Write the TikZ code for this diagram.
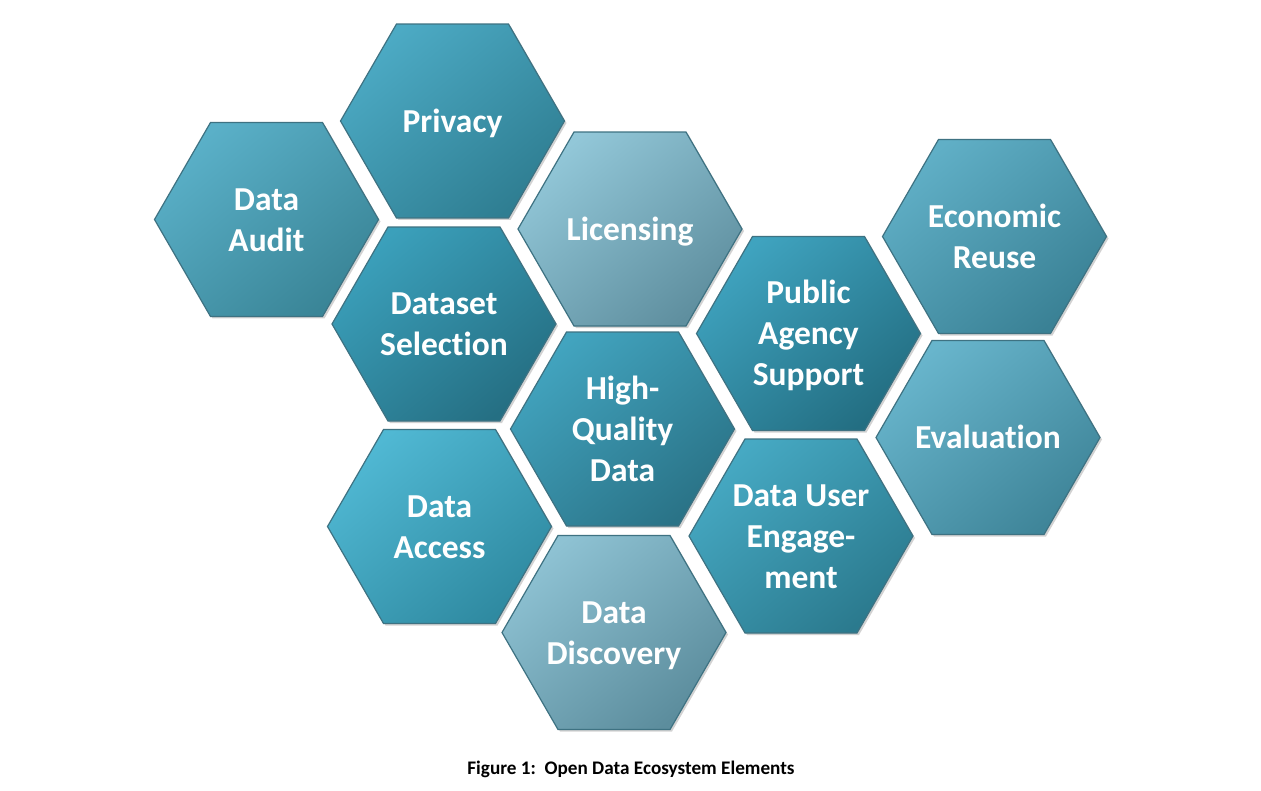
\documentclass[tikz,border=0pt]{standalone}
\usepackage{fontspec}
\setmainfont{Carlito}[Ligatures=CommonOff]
\usetikzlibrary{shapes.geometric,shadows}
\definecolor{edgec}{HTML}{3E7282}
\definecolor{auditA}{HTML}{5AB0C8}\definecolor{auditB}{HTML}{3A8597}
\definecolor{privA}{HTML}{4CAAC4}\definecolor{privB}{HTML}{2F7E92}
\definecolor{licA}{HTML}{92C7D8}\definecolor{licB}{HTML}{5F8F9F}
\definecolor{selA}{HTML}{3BA0BB}\definecolor{selB}{HTML}{256F83}
\definecolor{ecoA}{HTML}{60AFC6}\definecolor{ecoB}{HTML}{3A8195}
\definecolor{agA}{HTML}{3FA3BF}\definecolor{agB}{HTML}{236E82}
\definecolor{hqA}{HTML}{42A4BF}\definecolor{hqB}{HTML}{2A7387}
\definecolor{evA}{HTML}{68B5CC}\definecolor{evB}{HTML}{3F8599}
\definecolor{accA}{HTML}{50B8D3}\definecolor{accB}{HTML}{2F8AA1}
\definecolor{usrA}{HTML}{46A9C3}\definecolor{usrB}{HTML}{2B7A8E}
\definecolor{disA}{HTML}{8EC2D3}\definecolor{disB}{HTML}{5C8D9D}
% one centred line of zero width, with fixed ascent/descent
\newcommand\hl[1]{\makebox[0pt]{\rule[-0.23em]{0pt}{1.13em}#1}}
\tikzset{
  hexa/.style n args={2}{regular polygon, regular polygon sides=6,
    minimum size=224pt, inner sep=0pt, draw=edgec, line width=1.2pt,
    top color=#1, bottom color=#2, shading angle=40,
    text=white, align=center, font=\fontsize{33.5}{41}\selectfont\bfseries,
    drop shadow={opacity=0.35, shadow xshift=2pt, shadow yshift=-2pt}},
  caption/.style={font=\fontsize{19.2}{23}\selectfont\bfseries, text=black}
}
\begin{document}
\begin{tikzpicture}[x=1pt,y=-1pt]
\useasboundingbox[fill=white] (0,0) rectangle (1261,790);
\node[hexa={auditA}{auditB}] (audit) at (266.5,219.5) {\hl{Data}\\\hl{Audit}};
\node[hexa={privA}{privB}] (privacy) at (452.5,121) {\hl{Privacy}};
\node[hexa={licA}{licB}] (licensing) at (630,229) {\hl{Licensing}};
\node[hexa={selA}{selB}] (selection) at (444,324) {\hl{Dataset}\\\hl{Selection}};
\node[hexa={ecoA}{ecoB}] (economic) at (994.5,236.5) {\hl{Economic}\\\hl{Reuse}};
\node[hexa={agA}{agB}] (agency) at (808.5,333.5) {\hl{Public}\\\hl{Agency}\\\hl{Support}};
\node[hexa={hqA}{hqB}] (quality) at (622.5,429) {\hl{High-}\\\hl{Quality}\\\hl{Data}};
\node[hexa={evA}{evB}] (evaluation) at (988,437.5) {\hl{Evaluation}};
\node[hexa={accA}{accB}] (access) at (439.5,526.5) {\hl{Data}\\\hl{Access}};
\node[hexa={usrA}{usrB}] (user) at (801,536) {\hl{Data User}\\\hl{Engage-}\\\hl{ment}};
\node[hexa={disA}{disB}] (discovery) at (614,632.5) {\hl{Data}\\\hl{Discovery}};
\node[caption] (cap) at (631,769) {Figure 1:\ \ Open Data Ecosystem Elements};
\end{tikzpicture}
\end{document}
